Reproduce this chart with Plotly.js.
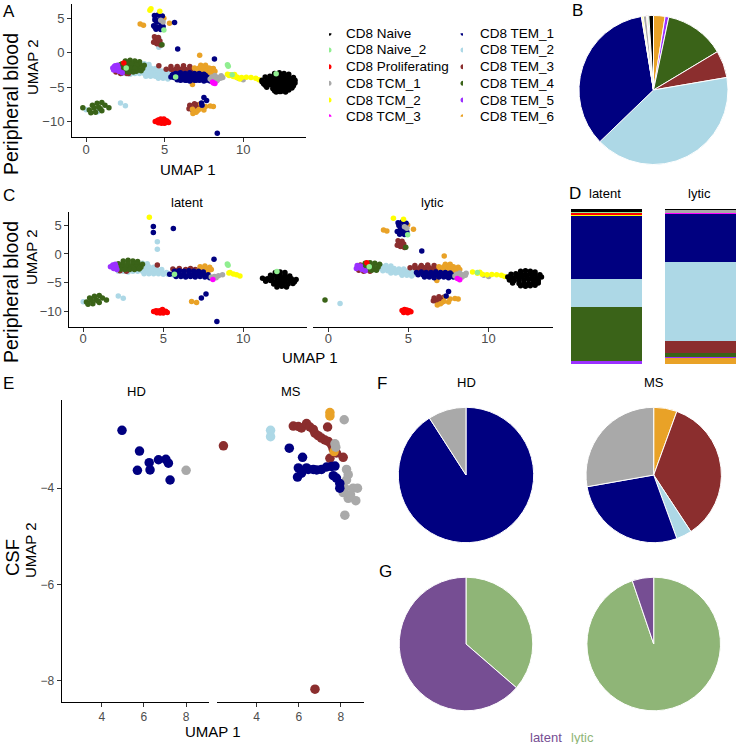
<!DOCTYPE html>
<html><head><meta charset="utf-8">
<script src="https://cdn.plot.ly/plotly-3.0.1.min.js"></script>
<style>html,body{margin:0;padding:0;background:#fff;}#chart{width:736px;height:744px;}</style>
</head><body><div id="chart"></div>
<script>
// ---------- categories & colours ----------
const cellTypes = ["CD8 Naive","CD8 Naive_2","CD8 Proliferating","CD8 TCM_1","CD8 TCM_2","CD8 TCM_3","CD8 TEM_1","CD8 TEM_2","CD8 TEM_3","CD8 TEM_4","CD8 TEM_5","CD8 TEM_6"];
const cellColors = ["#000000","#90EE90","#FF0000","#A9A9A9","#FFFF00","#FF00FF","#000080","#ADD8E6","#8B2E2E","#3A6318","#9B30FF","#E9A227"];
const stateNames = ["latent","lytic"];
const stateColors = ["#764E93","#8FB577"];

// ---------- UMAP, peripheral blood, latent cells [x,y] ----------
const latentNaive = [[12.0,-3.2],[12.3,-3.1],[12.6,-3.2],[11.7,-3.7],[12.0,-3.6],[12.3,-3.7],[12.6,-3.6],[12.9,-3.8],[11.2,-4.2],[11.5,-4.3],[11.8,-4.1],[12.1,-4.2],[12.4,-4.2],[12.7,-4.1],[13.0,-4.3],[13.3,-4.4],[11.4,-4.7],[11.7,-4.6],[12.0,-4.8],[12.3,-4.7],[12.6,-4.7],[12.9,-4.6],[13.2,-4.8],[11.9,-5.2],[12.2,-5.3],[12.5,-5.1],[12.8,-5.2],[13.1,-5.1],[12.1,-5.7],[12.4,-5.6],[12.7,-5.7]];
const latentNaive2 = [[9.0,-1.75],[9.05,-1.95],[12.1,-3.05],[5.7,-3.5]];
const latentProlif = [[4.4,-9.95],[4.55,-9.8],[4.7,-9.85],[4.85,-9.75],[5.0,-9.85],[5.15,-9.9],[5.25,-10.1],[4.6,-10.15],[4.8,-10.2],[5.0,-10.2],[4.95,-9.6]];
const latentTCM1 = [[8.0,-4.0],[8.2,-3.9],[8.45,-3.75],[8.7,-3.6],[8.3,-4.1]];
const latentTCM2 = [[4.13,6.35],[9.1,-3.3],[9.17,-3.2],[9.38,-3.45],[9.58,-3.6],[9.79,-3.8]];
const latentTCM3 = [[8.1,-4.4]];
const latentTEM1 = [[5.7,-3.0],[6.0,-2.9],[6.3,-3.0],[6.6,-2.9],[6.9,-3.0],[7.2,-3.0],[7.5,-3.1],[5.4,-3.5],[5.7,-3.5],[6.0,-3.4],[6.3,-3.5],[6.6,-3.5],[6.9,-3.4],[7.2,-3.5],[7.5,-3.5],[7.8,-3.6],[5.8,-3.9],[6.1,-3.9],[6.4,-4.0],[6.7,-3.9],[7.0,-4.0],[7.3,-3.9],[7.6,-4.0],[7.9,-4.1],[4.38,4.73],[4.38,3.69],[5.63,4.39],[8.17,-0.92],[7.38,-7.6],[7.67,-6.92],[8.35,-11.66]];
const latentTEM2 = [[3.7,-1.6],[4.0,-1.7],[3.5,-2.2],[3.8,-2.1],[4.1,-2.2],[4.4,-2.3],[3.4,-2.6],[3.7,-2.6],[4.0,-2.6],[4.3,-2.6],[4.6,-2.7],[4.9,-2.7],[2.2,-3.0],[2.5,-3.0],[2.8,-3.1],[3.1,-3.0],[3.4,-3.0],[3.7,-3.0],[4.0,-3.0],[4.3,-3.0],[4.6,-3.1],[4.9,-3.1],[5.2,-3.2],[3.8,-3.4],[4.1,-3.4],[4.4,-3.4],[4.7,-3.4],[5.0,-3.5],[5.3,-3.5],[5.6,-3.6],[4.63,2.1],[4.63,0.8],[2.19,-7.27],[2.5,-7.67],[0.0,-8.25]];
const latentTEM3 = [[4.63,-1.9],[5.6,-2.6],[6.0,-2.5],[6.4,-2.7],[6.7,-2.5],[7.0,-2.7],[7.3,-2.6],[6.3,-3.0],[5.8,-2.9],[2.3,-2.9],[2.7,-3.0]];
const latentTEM4 = [[2.5,-1.2],[2.8,-1.1],[3.1,-1.2],[3.4,-1.3],[2.2,-1.7],[2.5,-1.7],[2.8,-1.7],[3.1,-1.7],[3.4,-1.7],[3.7,-1.8],[2.1,-2.2],[2.4,-2.2],[2.7,-2.2],[3.0,-2.2],[3.3,-2.2],[3.6,-2.3],[2.3,-2.7],[2.6,-2.7],[2.9,-2.7],[3.2,-2.7],[3.5,-2.6],[0.2,-8.3],[0.4,-7.6],[0.3,-8.7],[0.7,-7.3],[0.8,-7.9],[1.0,-7.2],[1.0,-8.4],[0.6,-8.6],[1.2,-7.6],[1.45,-7.95],[0.9,-8.1],[0.5,-8.0]];
const latentTEM5 = [[1.7,-2.2],[1.85,-1.9],[1.9,-2.5],[2.05,-2.2],[2.1,-2.7],[2.0,-1.8]];
const latentTEM6 = [[7.3,-2.2],[7.6,-2.1],[7.9,-2.3],[7.4,-2.6],[7.7,-2.5],[8.0,-2.7],[7.2,-2.9],[7.5,-3.0],[7.8,-3.0],[6.77,-8.2],[7.08,-8.4]];

// ---------- UMAP, peripheral blood, lytic cells [x,y] ----------
const lyticNaive = [[12.0,-3.0],[12.3,-2.9],[12.6,-3.0],[12.9,-3.1],[11.4,-3.5],[11.7,-3.4],[12.0,-3.5],[12.3,-3.5],[12.6,-3.4],[12.9,-3.5],[13.2,-3.6],[11.2,-4.0],[11.5,-4.1],[11.8,-4.0],[12.1,-4.0],[12.4,-3.9],[12.7,-4.0],[13.0,-4.1],[13.3,-4.0],[11.3,-4.5],[11.6,-4.6],[11.9,-4.5],[12.2,-4.5],[12.5,-4.4],[12.8,-4.5],[13.1,-4.6],[11.5,-5.0],[11.9,-5.1],[12.2,-5.0],[12.5,-5.1],[12.8,-5.0],[13.1,-5.0],[12.0,-5.5],[12.3,-5.6],[12.6,-5.5],[12.9,-5.4]];
const lyticNaive2 = [[4.95,3.3],[9.3,-3.2],[2.55,-2.2]];
const lyticProlif = [[4.6,-9.75],[4.75,-9.6],[4.9,-9.7],[5.05,-9.8],[5.15,-10.0],[4.7,-10.1],[4.95,-10.15],[2.4,-1.5]];
const lyticTCM1 = [[4.9,4.45],[4.75,4.7],[7.9,-3.8],[8.0,-3.5],[8.2,-3.3],[8.4,-3.6],[8.6,-3.35],[8.1,-3.95],[8.35,-4.0],[8.55,-3.7],[9.7,-3.7],[10.0,-3.9]];
const lyticTCM2 = [[4.06,6.15],[4.69,6.0],[9.0,-3.1],[9.3,-3.35],[9.45,-3.15],[9.6,-3.5],[9.9,-3.6],[10.2,-3.55],[10.5,-3.6],[10.8,-3.7],[11.0,-3.9]];
const lyticTCM3 = [[8.2,-4.45],[8.05,-4.25]];
const lyticTEM1 = [[4.35,5.4],[4.6,5.5],[4.85,5.3],[4.4,4.9],[4.7,4.8],[4.5,4.4],[4.8,4.2],[4.3,3.9],[4.6,3.7],[4.9,3.8],[4.45,3.4],[4.75,3.35],[5.83,0.52],[7.5,-6.5],[7.35,-7.27],[5.5,-3.2],[5.8,-3.1],[6.1,-3.2],[6.4,-3.2],[6.7,-3.1],[7.0,-3.2],[7.3,-3.2],[7.6,-3.3],[5.6,-3.6],[5.9,-3.6],[6.2,-3.7],[6.5,-3.6],[6.8,-3.6],[7.1,-3.7],[7.4,-3.6],[7.7,-3.6],[8.0,-3.7],[6.0,-4.0],[6.3,-4.0],[6.6,-4.1],[6.9,-4.0],[7.2,-4.0],[7.5,-4.1],[7.8,-4.0]];
const lyticTEM2 = [[3.3,-2.1],[3.6,-2.0],[3.9,-2.1],[3.2,-2.5],[3.5,-2.5],[3.8,-2.5],[4.1,-2.5],[4.4,-2.6],[4.7,-2.6],[3.4,-2.9],[3.7,-2.9],[4.0,-2.9],[4.3,-2.9],[4.6,-2.9],[4.9,-3.0],[5.2,-3.0],[3.9,-3.3],[4.2,-3.3],[4.5,-3.3],[4.8,-3.3],[5.1,-3.4],[5.4,-3.4],[4.6,-3.7],[4.9,-3.7],[5.2,-3.8],[2.6,-2.4],[2.9,-2.7],[4.8,1.1],[0.73,-8.54]];
const lyticTEM3 = [[4.35,2.3],[4.6,2.2],[4.4,1.8],[4.7,1.7],[4.5,1.3],[4.75,1.1],[4.3,1.5],[5.4,-2.0],[5.8,-2.0],[6.2,-1.9],[6.6,-2.0],[5.1,-2.4],[5.4,-2.4],[5.7,-2.4],[6.0,-2.4],[6.3,-2.4],[6.6,-2.4],[6.9,-2.5],[7.2,-2.4],[5.6,-2.8],[5.9,-2.8],[6.2,-2.8],[6.5,-2.8],[6.8,-2.8],[7.1,-2.8],[7.4,-2.9],[6.6,-7.6],[6.9,-7.4],[7.2,-7.5],[6.7,-8.0],[7.0,-7.9],[6.8,-8.4],[7.1,-8.3],[6.55,-8.1],[1.9,-2.8],[2.2,-3.0],[2.0,-1.9],[2.6,-3.0]];
const lyticTEM4 = [[2.3,-1.6],[2.6,-1.5],[2.9,-1.6],[3.2,-1.8],[2.2,-2.2],[2.5,-2.1],[2.8,-2.2],[3.1,-2.3],[2.4,-2.7],[2.7,-2.8],[3.0,-2.8],[4.83,1.15],[-0.21,-7.96]];
const lyticTEM5 = [[1.8,-2.0],[1.95,-2.4],[2.1,-2.7],[2.0,-2.1],[2.3,-2.9],[1.75,-2.5]];
const lyticTEM6 = [[3.44,4.15],[3.65,3.98],[5.31,4.27],[4.95,5.0],[7.23,-0.35],[6.77,-4.6],[7.3,-1.8],[7.6,-1.8],[6.9,-2.2],[7.2,-2.2],[7.5,-2.2],[7.8,-2.2],[8.1,-2.3],[7.0,-2.6],[7.3,-2.6],[7.6,-2.6],[7.9,-2.6],[8.2,-2.7],[7.4,-3.0],[7.7,-3.0],[8.0,-3.1],[7.3,-7.4],[7.6,-7.8],[7.9,-7.7],[8.1,-7.8],[7.2,-8.2],[7.5,-8.3],[7.0,-8.6],[6.8,-8.8]];

// ---------- B: pie of all blood cells (%), values in cellTypes order ----------
const pieAllValues = [1.0,0.3,0.2,0.7,0.3,0.1,34.6,40.5,5.9,13.1,0.8,2.5];
const pieAllOrder = [11,10,9,8,7,6,5,4,3,2,1,0];   // clockwise from 12 o'clock

// ---------- D: stacked composition (%), per cellTypes order ----------
const barLatent = [1.9,0.8,1.2,0.2,0.3,0.1,40.6,18.1,0.2,34.7,1.6,0.3];
const barLytic  = [0.6,0.1,0.2,1.7,0.1,0.2,31.0,51.0,7.9,2.8,0.6,3.8];

// ---------- E: CSF UMAP [x,y] ----------
const csfHD_TEM1 = [[4.96,-2.80],[5.79,-3.23],[5.69,-3.63],[6.25,-3.47],[6.29,-3.62],[6.69,-3.41],[7.04,-3.40],[7.16,-3.48],[7.24,-3.83]];
const csfHD_TCM1 = [[8.0,-3.63]];
const csfMS_TEM3 = [[2.42,-3.12],[5.74,-2.71],[5.98,-2.72],[6.13,-2.75],[6.37,-2.66],[6.53,-2.73],[6.69,-2.78],[6.77,-2.86],[6.92,-2.91],[7.08,-2.96],[7.24,-3.0],[7.40,-3.03],[7.37,-2.73],[7.56,-3.10],[7.64,-3.19],[7.48,-3.38],[8.11,-3.36],[7.79,-3.27],[6.77,-8.17]];
const csfMS_TEM6 = [[7.48,-2.43],[7.48,-2.50],[7.68,-3.24]];
const csfMS_TCM1 = [[8.16,-2.58],[7.72,-3.08],[7.76,-3.15],[8.27,-3.61],[8.35,-3.72],[8.19,-4.0],[8.58,-4.0],[8.79,-4.0],[8.35,-4.21],[8.71,-4.26],[8.19,-4.56],[8.11,-4.09],[8.46,-4.14],[8.27,-3.83]];
const csfMS_TEM2 = [[4.66,-2.80],[4.66,-2.93]];
const csfMS_TEM1 = [[5.55,-3.17],[6.18,-3.36],[5.98,-3.58],[5.94,-3.77],[6.13,-3.69],[6.37,-3.58],[6.85,-3.62],[6.69,-3.61],[7.08,-3.61],[7.32,-3.56],[7.56,-3.55],[7.72,-3.54],[7.64,-3.74],[7.79,-3.79],[7.95,-3.90],[7.95,-4.0],[6.45,-3.61]];

// ---------- F / G: CSF pies (clockwise from top) ----------
const pieHDTypes = ["CD8 TEM_1","CD8 TCM_1"];
const pieHDValues = [10,1];
const pieMSTypes = ["CD8 TEM_6","CD8 TEM_3","CD8 TEM_2","CD8 TEM_1","CD8 TCM_1"];
const pieMSValues = [3,19,2,15,15];
const stateHDValues = [4,7];     // lytic, latent
const stateMSValues = [94.8,5.2];

// ================= build =================
const W = 736, H = 744;
const fx = (a,b) => [a/W, b/W];
const fy = (top,bot) => [1-bot/H, 1-top/H];
const col = t => cellColors[cellTypes.indexOf(t)];
const latentSets = [latentNaive,latentNaive2,latentProlif,latentTCM1,latentTCM2,latentTCM3,latentTEM1,latentTEM2,latentTEM3,latentTEM4,latentTEM5,latentTEM6];
const lyticSets  = [lyticNaive,lyticNaive2,lyticProlif,lyticTCM1,lyticTCM2,lyticTCM3,lyticTEM1,lyticTEM2,lyticTEM3,lyticTEM4,lyticTEM5,lyticTEM6];
const drawOrder = [7,8,11,6,9,10,3,4,5,2,0,1];
const traces = [];
function pts(arr, xa, ya, color, size){
  traces.push({type:'scatter', mode:'markers', x:arr.map(p=>p[0]), y:arr.map(p=>p[1]), xaxis:xa, yaxis:ya,
    marker:{color:color, size:size, line:{width:0}}, showlegend:false, hoverinfo:'skip'});
}
drawOrder.forEach(i => pts(latentSets[i].concat(lyticSets[i]), 'x', 'y', cellColors[i], 5.5));
drawOrder.forEach(i => pts(latentSets[i], 'x2', 'y2', cellColors[i], 5.5));
drawOrder.forEach(i => pts(lyticSets[i], 'x3', 'y3', cellColors[i], 5.5));
pts(csfHD_TEM1,'x4','y4',col("CD8 TEM_1"),9.5);
pts(csfHD_TCM1,'x4','y4',col("CD8 TCM_1"),9.5);
pts(csfMS_TEM3,'x5','y5',col("CD8 TEM_3"),9.5);
pts(csfMS_TEM6,'x5','y5',col("CD8 TEM_6"),9.5);
pts(csfMS_TCM1,'x5','y5',col("CD8 TCM_1"),9.5);
pts(csfMS_TEM2,'x5','y5',col("CD8 TEM_2"),9.5);
pts(csfMS_TEM1,'x5','y5',col("CD8 TEM_1"),9.5);

// D stacked bars: last level at bottom
for (let i = cellTypes.length-1; i >= 0; i--) {
  traces.push({type:'bar', x:stateNames, y:[barLatent[i], barLytic[i]], xaxis:'x6', yaxis:'y6',
    marker:{color:cellColors[i], line:{width:0}}, showlegend:false, hoverinfo:'skip'});
}
// legend dots (A)
traces.push({type:'scatter', mode:'markers', xaxis:'x7', yaxis:'y7',
  x: cellTypes.map((c,i)=> Math.floor(i/6)), y: cellTypes.map((c,i)=> i%6),
  marker:{color:cellColors, size:5}, showlegend:false, hoverinfo:'skip'});

function pie(labels, values, colors, cx, cy, r){
  traces.push({type:'pie', labels:labels, values:values, sort:false, direction:'clockwise', rotation:0,
    marker:{colors:colors, line:{color:'#ffffff', width:1}}, textinfo:'none', hoverinfo:'skip', showlegend:false,
    domain:{x:fx(cx-r,cx+r), y:fy(cy-r,cy+r)}});
}
pie(pieAllOrder.map(i=>cellTypes[i]), pieAllOrder.map(i=>pieAllValues[i]), pieAllOrder.map(i=>cellColors[i]), 653.5, 90, 74.5);
pie(pieHDTypes, pieHDValues, pieHDTypes.map(col), 466, 475, 67.7);
pie(pieMSTypes, pieMSValues, pieMSTypes.map(col), 653.7, 475, 67.7);
pie(["lytic","latent"], stateHDValues, [stateColors[1],stateColors[0]], 466, 644, 66.8);
pie(["lytic","latent"], stateMSValues, [stateColors[1],stateColors[0]], 653.7, 644, 66.8);

const FONT = 'Liberation Sans, Arial, sans-serif';
const ax = (extra) => Object.assign({showgrid:false, zeroline:false, showline:true, linecolor:'#000', linewidth:1,
  ticks:'outside', ticklen:4, tickcolor:'#333', tickwidth:1, tickfont:{size:13, color:'#4D4D4D'}, fixedrange:true}, extra);
const hidden = (extra) => Object.assign({visible:false, showgrid:false, zeroline:false, fixedrange:true}, extra);

const layout = {
  width:W, height:H, margin:{l:0,r:0,t:0,b:0}, paper_bgcolor:'#fff', plot_bgcolor:'rgba(0,0,0,0)',
  font:{family:FONT, color:'#000'}, showlegend:false, barmode:'stack', bargap:0.245,
  xaxis: ax({domain:fx(72,306), range:[-0.9,14], tickvals:[0,5,10], anchor:'y', ticklabelstandoff:-4}),
  yaxis: ax({domain:fy(4,137), range:[-12.2,7.05], tickvals:[-10,-5,0,5], anchor:'x'}),
  xaxis2: ax({domain:fx(69.3,306.7), range:[-0.87,13.96], tickvals:[0,5,10], anchor:'y2', ticklabelstandoff:-4}),
  yaxis2: ax({domain:fy(211.7,326.7), range:[-12.57,7.3], tickvals:[-10,-5,0,5], anchor:'x2'}),
  xaxis3: ax({domain:fx(313.3,552.7), range:[-0.94,14.0], tickvals:[0,5,10], anchor:'y3', ticklabelstandoff:-4}),
  yaxis3: hidden({domain:fy(211.7,326.7), range:[-12.57,7.3], anchor:'x3'}),
  xaxis4: ax({domain:fx(61.7,209.3), range:[2.1,9.1], tickvals:[4,6,8], anchor:'y4', tickfont:{size:12,color:'#4D4D4D'}}),
  yaxis4: ax({domain:fy(400,701.7), range:[-8.43,-2.17], tickvals:[-8,-6,-4], anchor:'x4', tickfont:{size:12,color:'#4D4D4D'}}),
  xaxis5: ax({domain:fx(216.7,364), range:[2.1,9.1], tickvals:[4,6,8], anchor:'y5', tickfont:{size:12,color:'#4D4D4D'}}),
  yaxis5: hidden({domain:fy(400,701.7), range:[-8.43,-2.17], anchor:'x5'}),
  xaxis6: hidden({domain:[559.5/W,1], range:[-0.5,1.378], anchor:'y6', type:'category'}),
  yaxis6: hidden({domain:fy(209,364), range:[0,100], anchor:'x6'}),
  xaxis7: hidden({domain:fx(329,463), range:[0,1], anchor:'y7'}),
  yaxis7: hidden({domain:fy(33.3,116.7), range:[5,0], anchor:'x7'}),
  annotations: []
};
const A = layout.annotations;
function txt(text, px, py, size, opts){
  A.push(Object.assign({text:text, x:px/W, y:1-py/H, xref:'paper', yref:'paper', showarrow:false,
    xanchor:'center', yanchor:'middle', font:{size:size, color:'#000', family:FONT}}, opts||{}));
}
// panel letters
[["A",9,12],["B",577,11],["C",9,195],["D",575,193],["E",8,383],["F",382,383],["G",385,571]].forEach(l=>txt(l[0],l[1],l[2],17));
// axis titles
txt("UMAP 1",188,169,15); txt("UMAP 2",32,67,15,{textangle:-90}); txt("Peripheral blood",11,104,19.5,{textangle:-90});
txt("UMAP 1",310,357,15); txt("UMAP 2",31,257,15,{textangle:-90}); txt("Peripheral blood",11,292,19.5,{textangle:-90});
txt("UMAP 1",213,731,15); txt("UMAP 2",30,550,15,{textangle:-90}); txt("CSF",12,558,18.5,{textangle:-90});
// facet labels
txt("latent",187,202,13); txt("lytic",432,202,13);
txt("latent",605,193,13); txt("lytic",699,193,13);
txt("HD",136,391,13); txt("MS",291,391,13);
txt("HD",466,382,13); txt("MS",654,382,13);
// legend text (A)
cellTypes.forEach((c,i)=> A.push({text:c, x:Math.floor(i/6), y:i%6, xref:'x7', yref:'y7', xanchor:'left', yanchor:'middle',
  xshift:15, showarrow:false, font:{size:13.5, color:'#000', family:FONT}}));
// bottom legend (G)
txt(stateNames[0],528,737,13,{xanchor:'left', font:{size:13,color:stateColors[0],family:FONT}});
txt(stateNames[1],569,737,13,{xanchor:'left', font:{size:13,color:stateColors[1],family:FONT}});

Plotly.newPlot('chart', traces, layout, {staticPlot:true, displayModeBar:false});
</script></body></html>
